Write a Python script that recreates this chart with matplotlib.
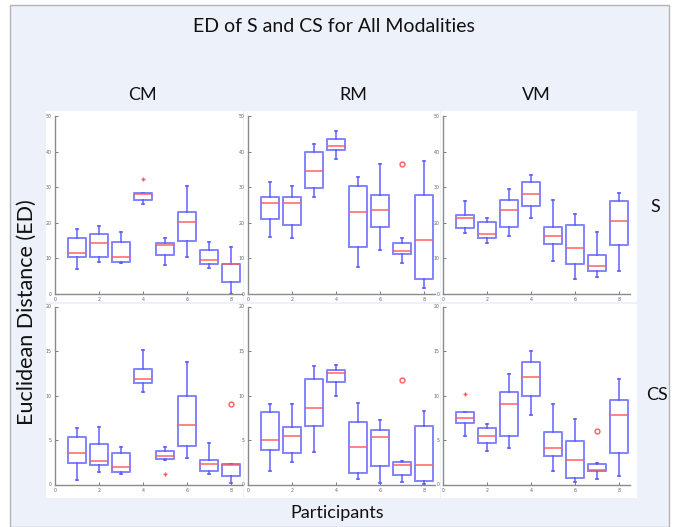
import matplotlib
matplotlib.use("Agg")
import matplotlib.pyplot as plt
from matplotlib.patches import Rectangle

W, H = 678, 527

PARTICIPANTS = [1, 2, 3, 4, 5, 6, 7, 8]
MODALITIES = ["CM", "RM", "VM"]
CONDITIONS = ["S", "CS"]

# box statistics: whisker low, q1, median, q3, whisker high
CM_S_LO = [7.1, 9.0, 8.7, 25.3, 8.1, 10.4, 7.4, 0.1]
CM_S_Q1 = [10.3, 10.3, 9.0, 26.3, 10.9, 15.0, 8.5, 3.3]
CM_S_MED = [11.6, 14.4, 10.4, 28.0, 13.7, 20.2, 9.5, 8.4]
CM_S_Q3 = [15.7, 16.9, 14.5, 28.4, 14.3, 23.0, 12.3, 8.5]
CM_S_HI = [18.2, 19.2, 17.3, 28.4, 15.6, 30.2, 14.7, 13.3]
CM_S_OUT = [(4, 32.4, "+")]

RM_S_LO = [16.1, 15.6, 27.3, 37.8, 7.7, 12.3, 8.8, 1.7]
RM_S_Q1 = [21.0, 19.5, 29.7, 40.4, 13.1, 18.9, 11.2, 4.3]
RM_S_MED = [25.7, 25.6, 34.6, 41.5, 22.9, 23.6, 12.0, 15.2]
RM_S_Q3 = [27.3, 27.3, 39.9, 43.5, 30.4, 27.8, 14.3, 27.9]
RM_S_HI = [31.4, 30.3, 42.0, 45.7, 32.9, 36.6, 15.8, 37.3]
RM_S_OUT = [(7, 36.4, "o")]

VM_S_LO = [17.1, 14.2, 16.4, 21.4, 9.4, 4.1, 4.8, 6.5]
VM_S_Q1 = [18.6, 15.7, 18.9, 24.8, 14.0, 8.4, 6.5, 13.9]
VM_S_MED = [21.4, 16.9, 23.7, 28.0, 16.4, 12.8, 7.9, 20.5]
VM_S_Q3 = [22.3, 20.1, 26.4, 31.4, 18.9, 19.4, 11.0, 26.0]
VM_S_HI = [26.1, 21.3, 29.4, 33.3, 26.3, 22.5, 17.3, 28.5]
VM_S_OUT = []

CM_CS_LO = [0.5, 1.36, 1.17, 10.36, 2.8, 2.94, 1.2, 0.19]
CM_CS_Q1 = [2.4, 2.2, 1.39, 11.4, 2.9, 4.37, 1.5, 0.94]
CM_CS_MED = [3.5, 2.64, 1.92, 11.9, 3.24, 6.74, 2.3, 2.2]
CM_CS_Q3 = [5.35, 4.56, 3.58, 12.96, 3.8, 9.9, 2.79, 2.3]
CM_CS_HI = [6.4, 6.5, 4.26, 15.1, 4.18, 13.8, 4.67, 2.3]
CM_CS_OUT = [(5, 1.13, "+"), (8, 9.1, "o")]

RM_CS_LO = [1.5, 2.5, 3.6, 10.0, 0.67, 0.15, 0.33, 0.07]
RM_CS_Q1 = [3.85, 3.5, 6.6, 11.5, 1.3, 2.1, 1.04, 0.44]
RM_CS_MED = [4.96, 5.5, 8.6, 12.5, 4.2, 5.3, 2.2, 2.2]
RM_CS_Q3 = [8.2, 6.5, 11.8, 12.9, 7.0, 6.1, 2.55, 6.6]
RM_CS_HI = [9.1, 9.1, 13.3, 13.4, 9.2, 7.2, 2.6, 8.3]
RM_CS_OUT = [(7, 11.7, "o")]

VM_CS_LO = [5.4, 3.8, 4.1, 7.8, 1.5, 0.26, 0.6, 0.93]
VM_CS_Q1 = [6.9, 4.7, 5.5, 10.0, 3.2, 0.75, 1.5, 3.5]
VM_CS_MED = [7.5, 5.5, 9.1, 12.1, 4.1, 2.8, 1.64, 7.8]
VM_CS_Q3 = [8.1, 6.3, 10.4, 13.8, 5.9, 4.85, 2.3, 9.55]
VM_CS_HI = [8.1, 6.75, 12.4, 15.0, 9.1, 7.35, 2.46, 11.8]
VM_CS_OUT = [(1, 10.2, "+"), (7, 6.0, "o")]

Y_MAX = {"S": 50, "CS": 20}
Y_TICKS = {"S": [0, 10, 20, 30, 40, 50], "CS": [0, 5, 10, 15, 20]}
X_TICKS = [0, 2, 4, 6, 8]

PANELS = {
    ("CM", "S"): (CM_S_LO, CM_S_Q1, CM_S_MED, CM_S_Q3, CM_S_HI, CM_S_OUT),
    ("RM", "S"): (RM_S_LO, RM_S_Q1, RM_S_MED, RM_S_Q3, RM_S_HI, RM_S_OUT),
    ("VM", "S"): (VM_S_LO, VM_S_Q1, VM_S_MED, VM_S_Q3, VM_S_HI, VM_S_OUT),
    ("CM", "CS"): (CM_CS_LO, CM_CS_Q1, CM_CS_MED, CM_CS_Q3, CM_CS_HI, CM_CS_OUT),
    ("RM", "CS"): (RM_CS_LO, RM_CS_Q1, RM_CS_MED, RM_CS_Q3, RM_CS_HI, RM_CS_OUT),
    ("VM", "CS"): (VM_CS_LO, VM_CS_Q1, VM_CS_MED, VM_CS_Q3, VM_CS_HI, VM_CS_OUT),
}

BLUE = "#5a5aff"
RED = "#ff5a5a"
BG = "#edf1f9"
FONT = ["Lato", "DejaVu Sans"]


def fig_rect(x0, y0, x1, y1):
    # pixel box (top-left origin) -> figure fraction rect
    return [x0 / W, 1 - y1 / H, (x1 - x0) / W, (y1 - y0) / H]


def build_stats(lo, q1, med, q3, hi, out):
    stats = []
    for i, p in enumerate(PARTICIPANTS):
        fl = [v for (pp, v, m) in out if pp == p]
        stats.append({"whislo": lo[i], "q1": q1[i], "med": med[i],
                      "q3": q3[i], "whishi": hi[i], "fliers": fl})
    return stats


def draw_panel(ax, data, cond):
    lo, q1, med, q3, hi, out = data
    res = ax.bxp(build_stats(lo, q1, med, q3, hi, out), positions=PARTICIPANTS,
                 widths=0.8, capwidths=0.1, manage_ticks=False,
                 boxprops=dict(color=BLUE, lw=1.4, alpha=0.75),
                 whiskerprops=dict(color=BLUE, lw=1.4, alpha=0.75),
                 capprops=dict(color=BLUE, lw=1.4, alpha=0.75),
                 medianprops=dict(color=RED, lw=1.3, alpha=0.8),
                 flierprops=dict(markeredgecolor=RED, markersize=3.5, mew=1.0))
    for i, p in enumerate(PARTICIPANTS):
        marks = [m for (pp, v, m) in out if pp == p]
        if marks:
            res["fliers"][i].set_marker(marks[0])
    ax.set_xlim(0, 8.5)
    ax.set_ylim(0, Y_MAX[cond])
    ax.set_xticks(X_TICKS)
    ax.set_yticks(Y_TICKS[cond])
    ax.tick_params(direction="in", length=2, width=0.6, labelsize=3.4,
                   colors="#666666", pad=2.5)
    for s in ["top", "right"]:
        ax.spines[s].set_visible(False)
    for s in ["left", "bottom"]:
        ax.spines[s].set_color("#8a8a8a")
        ax.spines[s].set_linewidth(1.0)
    ax.patch.set_alpha(0)


fig = plt.figure(figsize=(W / 100, H / 100), dpi=100, facecolor="white")

# light blue frame
fig.patches.append(Rectangle((10 / W, 0), 659 / W, 1 - 5 / H, transform=fig.transFigure,
                             facecolor=BG, edgecolor="#b5b5b5", lw=1.0, zorder=-3))

col_left = {"CM": 55, "RM": 248, "VM": 443}
panel_x = {"CM": (46, 243), "RM": (244, 440), "VM": (441, 637)}
row_y = {"S": (116, 294), "CS": (306.5, 484.5)}
panel_y = {"S": (111, 302), "CS": (304, 498)}

for mod in MODALITIES:
    for cond in CONDITIONS:
        px0, px1 = panel_x[mod]
        py0, py1 = panel_y[cond]
        fig.patches.append(Rectangle((px0 / W, 1 - py1 / H), (px1 - px0) / W, (py1 - py0) / H,
                                     transform=fig.transFigure, facecolor="white",
                                     edgecolor="none", zorder=-2))
        x0 = col_left[mod]
        y0, y1 = row_y[cond]
        ax = fig.add_axes(fig_rect(x0, y0, x0 + 187, y1))
        draw_panel(ax, PANELS[(mod, cond)], cond)

fig.text(334 / W, 1 - 26 / H, "ED of S and CS for All Modalities", ha="center", va="center",
         fontsize=14, family=FONT, color="#111111")
for mod, xc in zip(MODALITIES, [142, 353, 536]):
    fig.text(xc / W, 1 - 95 / H, mod, ha="center", va="center", fontsize=13,
             family=FONT, color="#111111")
fig.text(655 / W, 1 - 207 / H, "S", ha="center", va="center", fontsize=13,
         family=FONT, color="#111111")
fig.text(657 / W, 1 - 395 / H, "CS", ha="center", va="center", fontsize=13,
         family=FONT, color="#111111")
fig.text(27 / W, 1 - 312 / H, "Euclidean Distance (ED)", ha="center", va="center",
         rotation=90, fontsize=15.5, family=FONT, color="#111111")
fig.text(337 / W, 1 - 513 / H, "Participants", ha="center", va="center", fontsize=13,
         family=FONT, color="#111111")

fig.savefig("out.png", dpi=100, facecolor="white")
